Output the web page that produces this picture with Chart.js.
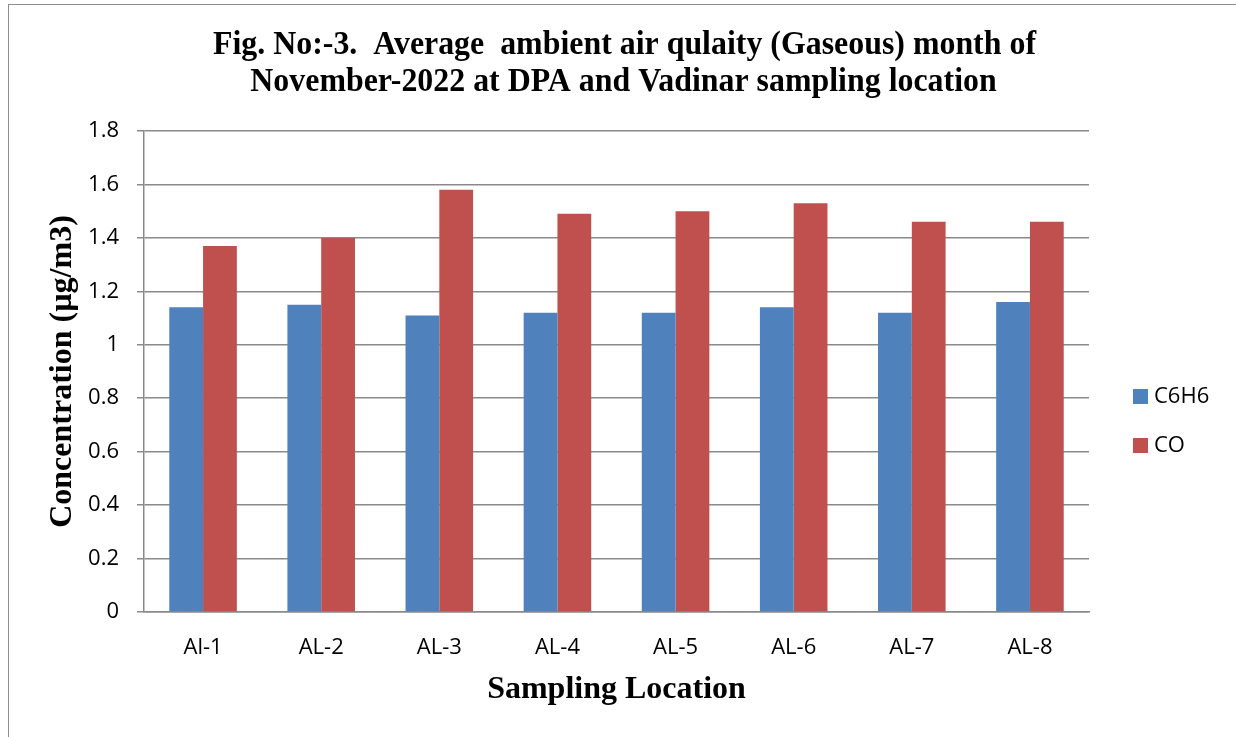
<!DOCTYPE html>
<html>
<head>
<meta charset="utf-8">
<script src="https://cdn.jsdelivr.net/npm/chart.js@4.4.1/dist/chart.umd.min.js"></script>
<style>
  html, body { margin: 0; padding: 0; background: #fff; }
  #wrap { position: relative; width: 1236px; height: 737px; overflow: hidden; }
  #frame { position: absolute; left: 8px; top: 4px; width: 1400px; height: 900px; border: 1px solid #8c8c8c; box-sizing: border-box; }
  #chart { position: absolute; left: 0; top: 0; }
</style>
</head>
<body>
<div id="wrap">
  <div id="frame"></div>
  <canvas id="chart" width="1236" height="737"></canvas>
</div>
<script>
// チャートのデータ
const LOCATIONS = ['Al-1', 'AL-2', 'AL-3', 'AL-4', 'AL-5', 'AL-6', 'AL-7', 'AL-8'];
const C6H6 = [1.14, 1.15, 1.11, 1.12, 1.12, 1.14, 1.12, 1.16];
const CO = [1.37, 1.40, 1.58, 1.49, 1.50, 1.53, 1.46, 1.46];
const Y_TICKS = [0, 0.2, 0.4, 0.6, 0.8, 1, 1.2, 1.4, 1.6, 1.8];

const TITLE_LINES = [
  'Fig. No:-3.  Average  ambient air qulaity (Gaseous) month of',
  'November-2022 at DPA and Vadinar sampling location'
];

const SERIF = "'Liberation Serif', 'Times New Roman', serif";
const SANS = "'Open Sans', 'Liberation Sans', sans-serif";

// タイトル（横方向に少し詰めて描く）
const titlePlugin = {
  id: 'figTitle',
  afterDraw(chart) {
    const ctx = chart.ctx;
    ctx.save();
    ctx.fillStyle = '#000';
    ctx.font = 'bold 33px ' + SERIF;
    ctx.textAlign = 'center';
    ctx.textBaseline = 'alphabetic';
    const w = ctx.measureText(TITLE_LINES[0]).width;
    const sx = 823 / w;
    [[TITLE_LINES[0], 624.5, 54], [TITLE_LINES[1], 623.5, 91]].forEach(([t, x, y]) => {
      ctx.save();
      ctx.translate(x, y);
      ctx.scale(sx, 1);
      ctx.fillText(t, 0, 0);
      ctx.restore();
    });
    ctx.restore();
  }
};

// 凡例（右側、縦並び）
const legendPlugin = {
  id: 'sideLegend',
  afterDraw(chart) {
    const ctx = chart.ctx;
    ctx.save();
    ctx.font = '22px ' + SANS;
    ctx.textBaseline = 'middle';
    chart.data.datasets.forEach((ds, i) => {
      const y = 389 + i * 49;
      ctx.fillStyle = ds.backgroundColor;
      ctx.fillRect(1133, y, 15, 15);
      ctx.fillStyle = '#000';
      ctx.fillText(ds.label, 1154, y + 8);
    });
    ctx.restore();
  }
};

new Chart(document.getElementById('chart'), {
  type: 'bar',
  data: {
    labels: LOCATIONS,
    datasets: [
      { label: 'C6H6', data: C6H6, backgroundColor: '#4F81BD', borderColor: '#6a96cc', borderWidth: 0 },
      { label: 'CO', data: CO, backgroundColor: '#C0504D', borderColor: '#d07370', borderWidth: 0 }
    ]
  },
  options: {
    responsive: false,
    animation: false,
    devicePixelRatio: 1,
    layout: { padding: { top: 131, right: 147, bottom: 0, left: 0 } },
    datasets: { bar: { categoryPercentage: 0.572, barPercentage: 1 } },
    plugins: {
      legend: { display: false },
      title: { display: false },
      tooltip: { enabled: false }
    },
    scales: {
      x: {
        grid: { display: false, drawTicks: false },
        border: { display: true, color: '#8a8a8a', width: 1.5 },
        ticks: { color: '#000', font: { family: SANS, size: 22 }, padding: 23, maxRotation: 0 },
        title: {
          display: true, text: 'Sampling Location', color: '#000',
          font: { family: SERIF, size: 32, weight: 'bold' },
          padding: { top: 0, bottom: 28 }
        },
        afterFit(scale) { scale.height = 125; }
      },
      y: {
        min: 0, max: 1.8,
        afterBuildTicks(scale) { scale.ticks = Y_TICKS.map(v => ({ value: v })); },
        grid: { color: '#8a8a8a', lineWidth: 1.5, tickLength: 7 },
        border: { display: true, color: '#8a8a8a', width: 1.5 },
        ticks: {
          color: '#000', font: { family: SANS, size: 22 }, padding: 18,
          callback: v => String(Math.round(v * 10) / 10)
        },
        title: {
          display: true, text: 'Concentration (µg/m3)', color: '#000',
          font: { family: SERIF, size: 32, weight: 'bold' },
          padding: { top: 44, bottom: 0 }
        },
        afterFit(scale) { scale.width = 144; }
      }
    }
  },
  plugins: [titlePlugin, legendPlugin]
});
</script>
</body>
</html>
